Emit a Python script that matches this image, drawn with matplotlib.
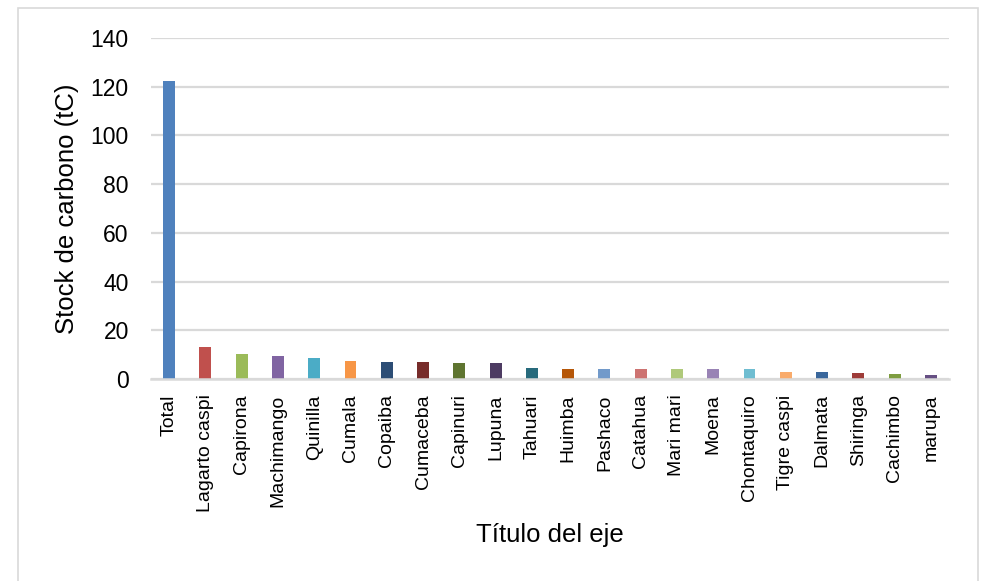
import matplotlib
matplotlib.use("Agg")
import matplotlib.pyplot as plt
from matplotlib.patches import Rectangle

plt.rcParams["font.family"] = ["Liberation Sans", "DejaVu Sans"]

# carbon stock per species (tC)
species = ["Total", "Lagarto caspi", "Capirona", "Machimango", "Quinilla",
           "Cumala", "Copaiba", "Cumaceba", "Capinuri", "Lupuna", "Tahuari",
           "Huimba", "Pashaco", "Catahua", "Mari mari", "Moena",
           "Chontaquiro", "Tigre caspi", "Dalmata", "Shiringa", "Cachimbo",
           "marupa"]
stock = [122.2, 13.3, 10.4, 9.6, 8.8, 7.5, 7.1, 7.1, 6.7, 6.7, 4.7,
         4.3, 4.3, 4.3, 4.3, 4.3, 4.3, 3.0, 3.0, 2.6, 2.2, 1.8]
yticks = [0, 20, 40, 60, 80, 100, 120, 140]

# office-style palette: base, darker, lighter
colors = ["#4F81BD", "#C0504D", "#9BBB59", "#8064A2", "#4BACC6", "#F79646",
          "#2C4D75", "#772C2A", "#5F7530", "#4D3B62", "#276A7C", "#B65708",
          "#729ACA", "#CD7371", "#AFC97A", "#9983B5", "#6FBDD1", "#F9AB6B",
          "#3A679C", "#9E3B38", "#7E9D40", "#664F83"]

GRID = "#d9d9d9"

fig = plt.figure(figsize=(9.82, 5.81), dpi=100)
ax = fig.add_axes([151/982, 1 - 379/581, 798/982, 341/581])

# chart frame
fig.patches.append(Rectangle((18/982, -0.02), 960/982, 1.02 - 8/581,
                             transform=fig.transFigure, fill=False,
                             ec=GRID, lw=1.2, zorder=0))

x = range(len(species))
ax.bar(x, stock, width=0.33, color=colors, zorder=3)

ax.set_xlim(-0.5, len(species) - 0.5)
ax.set_ylim(0, 140)
ax.set_yticks(yticks)
ax.set_xticks(list(x))
ax.set_xticklabels(species, rotation=90, fontsize=14, va="top")
ax.tick_params(axis="y", labelsize=16.5, length=0, pad=16)
ax.tick_params(axis="x", length=0, pad=11)

ax.yaxis.grid(True, color=GRID, lw=1.6, zorder=0)
for side in ["top", "right", "left"]:
    ax.spines[side].set_visible(False)
ax.spines["bottom"].set_color(GRID)
ax.spines["bottom"].set_linewidth(1.8)
ax.spines["bottom"].set_zorder(4)

ax.set_ylabel("Stock de carbono (tC)", fontsize=18.5)
ax.set_xlabel("Título del eje", fontsize=18.5)
ax.yaxis.set_label_coords((67 - 151) / 798, 0.5)
ax.xaxis.set_label_coords(0.5, (379 - 535) / 341)
ax.xaxis.label.set_va("center")
ax.yaxis.label.set_va("center")

fig.savefig("out.png", dpi=100)
